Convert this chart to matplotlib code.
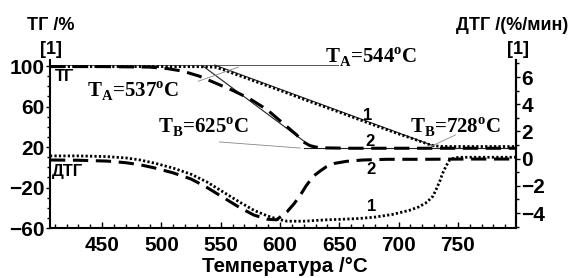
import matplotlib
matplotlib.use("Agg")
import matplotlib.pyplot as plt
from matplotlib.ticker import MultipleLocator

plt.rcParams['font.family'] = ['Liberation Sans', 'DejaVu Sans']
plt.rcParams['font.weight'] = 'bold'
plt.rcParams['mathtext.fontset'] = 'custom'
plt.rcParams['mathtext.rm'] = 'Liberation Serif:bold'

# ---- data ----
# TG curve 1 (dotted), %
tg1_T = [406, 450, 500, 530, 545, 552, 560, 580, 600, 625, 650, 675, 700, 715, 725, 730, 736, 745, 770, 799]
tg1_v = [99.5, 99.5, 99.5, 99.4, 99.0, 96.5, 93.0, 84.5, 76.0, 65.0, 54.5, 43.5, 33.0, 27.0, 22.8, 21.2, 20.6, 20.5, 20.5, 20.5]
# TG curve 2 (dashed), %
tg2_T = [406, 450, 490, 505, 518, 532, 546, 560, 574, 589, 602, 614, 619, 625, 630, 636, 660, 700, 799]
tg2_v = [99.5, 99.5, 99.0, 97.5, 95.0, 90.0, 83.0, 76.0, 68.0, 57.0, 44.0, 32.0, 25.5, 21.5, 20.0, 19.2, 18.8, 18.8, 18.8]
# DTG curve 1 (dotted), %/min
dtg1_T = [406, 430, 454, 470, 482, 495, 510, 525, 538, 552, 566, 578, 589, 598, 606, 620, 639, 655, 667,
          680, 695, 709, 717, 724, 729, 732, 735, 737, 740, 743, 747, 751, 770, 799]
dtg1_v = [0.2, 0.2, 0.15, 0.05, -0.1, -0.35, -0.7, -1.15, -1.7, -2.45, -3.2, -3.8, -4.2, -4.45, -4.6, -4.6,
          -4.5, -4.45, -4.4, -4.3, -4.1, -3.8, -3.55, -3.2, -2.75, -2.2, -1.6, -1.1, -0.55, -0.1, 0.05, 0.1, 0.1, 0.1]
# DTG curve 2 (dashed), %/min
dtg2_T = [406, 430, 454, 470, 482, 495, 510, 525, 538, 552, 566, 578, 589, 597, 606, 612, 617, 622, 628,
          634, 639, 646, 656, 670, 690, 720, 760, 799]
dtg2_v = [-0.1, -0.12, -0.18, -0.3, -0.45, -0.7, -1.05, -1.5, -2.1, -2.85, -3.6, -4.15, -4.45, -4.5, -3.9,
          -3.3, -2.7, -2.0, -1.3, -0.9, -0.6, -0.35, -0.2, -0.1, -0.05, -0.05, -0.03, -0.03]

# thin construction lines (T, TG)
base_T = [406, 649]
base_v = [101, 101]
tan1_T = [545, 730]
tan1_v = [101, 21]
tan2_T = [535, 628]
tan2_v = [100, 19]
end_T = [620, 795]
end_v = [19.5, 19.5]

x_ticks = [450, 500, 550, 600, 650, 700, 750]
y_left_ticks = [100, 60, 20, -20, -60]
y_right_ticks = [6, 4, 2, 0, -2, -4]

fig = plt.figure(figsize=(5.82, 2.78), dpi=100)
ax = fig.add_axes([50 / 582, 1 - 228 / 278, (516 - 50) / 582, (228 - 60) / 278])
ax2 = ax.twinx()

# TG curves
ax.plot(base_T, base_v, color='#555555', lw=0.7)
ax.plot(tan1_T, tan1_v, color='#222222', lw=0.8)
ax.plot(tan2_T, tan2_v, color='#222222', lw=0.8)
ax.plot(end_T, end_v, color='#222222', lw=0.8)
ax.plot(tg1_T, tg1_v, color='black', lw=2.0, linestyle=(0, (0.8, 0.8)))
ax.plot(tg2_T, tg2_v, color='black', lw=2.2, linestyle=(0, (5, 2.5)))

# leader lines
ax.plot([531, 565], [85, 99], color='#888888', lw=0.6)
ax.plot([549, 617], [25, 19], color='#888888', lw=0.6)
ax.plot([728, 748], [21, 32], color='#888888', lw=0.6)

# DTG curves
ax2.plot(dtg1_T, dtg1_v, color='black', lw=2.0, linestyle=(0, (0.8, 0.8)))
ax2.plot(dtg2_T, dtg2_v, color='black', lw=2.2, linestyle=(0, (5, 2.5)))

ax.set_xlim(406, 799)
ax.set_ylim(-60, 106)
ax2.set_ylim(-5.1, 7.25)

ax.set_xticks(x_ticks)
ax.set_yticks(y_left_ticks)
ax2.set_yticks(y_right_ticks)
ax.xaxis.set_minor_locator(MultipleLocator(10))
ax.yaxis.set_minor_locator(MultipleLocator(10))
ax2.yaxis.set_minor_locator(MultipleLocator(1))

for a in (ax, ax2):
    a.spines['top'].set_visible(False)
    for s in a.spines.values():
        s.set_linewidth(1.5)
ax2.spines['left'].set_visible(False)
ax2.spines['bottom'].set_visible(False)

ax.tick_params(axis='x', direction='in', length=4, width=1, labelsize=15, pad=6)
ax.tick_params(axis='x', which='minor', direction='in', length=3, width=1)
ax.tick_params(axis='y', direction='out', length=3, width=1, labelsize=15, pad=1)
ax.tick_params(axis='y', which='minor', direction='out', length=2, width=1)
ax2.tick_params(axis='y', direction='out', length=3, width=1, labelsize=15, pad=1)
ax2.tick_params(axis='y', which='minor', direction='out', length=2, width=1)
for lab in ax.get_xticklabels() + ax.get_yticklabels() + ax2.get_yticklabels():
    lab.set_fontweight('bold')

# axis titles
fig.text(51 / 582, 1 - 25 / 278, 'ТГ /%', ha='center', va='center', fontsize=13, fontweight='bold')
fig.text(51 / 582, 1 - 50 / 278, '[1]', ha='center', va='center', fontsize=13, fontweight='bold')
fig.text(512 / 582, 1 - 25 / 278, 'ДТГ /(%/мин)', ha='center', va='center', fontsize=13, fontweight='bold')
fig.text(518 / 582, 1 - 50 / 278, '[1]', ha='center', va='center', fontsize=13, fontweight='bold')
fig.text(285 / 582, 1 - 266 / 278, 'Температура /°C', ha='center', va='center', fontsize=14.8, fontweight='bold')

# inline labels
ax.text(410, 90, 'ТГ', ha='left', va='center', fontsize=12, fontweight='bold')
ax.text(408, -4, 'ДТГ', ha='left', va='center', fontsize=12, fontweight='bold')
ax.text(674, 51.5, '1', ha='center', va='center', fontsize=12, fontweight='bold')
ax.text(676, 25, '2', ha='center', va='center', fontsize=12, fontweight='bold')
ax.text(677, -2, '2', ha='center', va='center', fontsize=12, fontweight='bold')
ax.text(677, -39, '1', ha='center', va='center', fontsize=12, fontweight='bold')

serif = dict(fontsize=15, fontweight='bold', family='Liberation Serif')
fig.text(325 / 582, 1 - 56 / 278, 'T$_\\mathrm{A}$=544$^\\mathrm{o}$C', ha='left', va='center', **serif)
fig.text(87 / 582, 1 - 91 / 278, 'T$_\\mathrm{A}$=537$^\\mathrm{o}$C', ha='left', va='center', **serif)
fig.text(158 / 582, 1 - 127 / 278, 'T$_\\mathrm{B}$=625$^\\mathrm{o}$C', ha='left', va='center', **serif)
fig.text(410 / 582, 1 - 126 / 278, 'T$_\\mathrm{B}$=728$^\\mathrm{o}$C', ha='left', va='center', **serif)

fig.savefig('out.png', dpi=100)
